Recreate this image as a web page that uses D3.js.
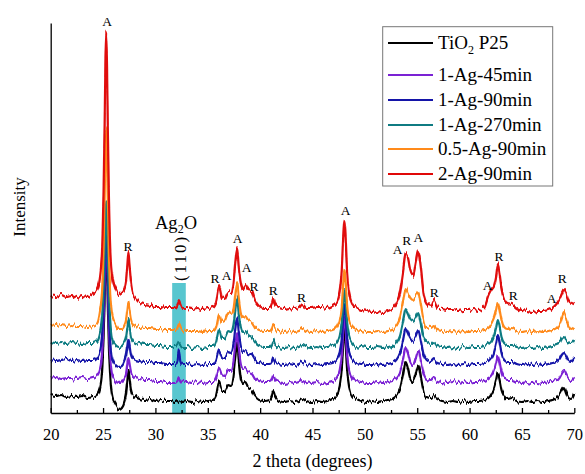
<!DOCTYPE html>
<html>
<head>
<meta charset="utf-8">
<script src="https://cdn.jsdelivr.net/npm/d3@7"></script>
<style>
  body { margin: 0; background: #fff; }
  svg { display: block; }
  text { font-family: "Liberation Serif", "Times New Roman", serif; fill: #000; }
</style>
</head>
<body>
<svg id="chart" width="585" height="474"></svg>
<script>
// 2-theta sampling positions (degrees), shared by every pattern
const theta = [
  20, 20.5, 21, 21.5, 22, 22.5, 23, 23.5, 24, 24.4,
  24.7, 24.9, 25.05, 25.15, 25.22, 25.3, 25.38, 25.45, 25.55, 25.7,
  25.9, 26.2, 26.5, 26.8, 27.05, 27.2, 27.32, 27.42, 27.52, 27.65,
  27.85, 28.1, 28.5, 29, 29.5, 30, 30.5, 31, 31.5, 31.9,
  32.1, 32.25, 32.4, 32.6, 33, 33.5, 34, 34.5, 35, 35.5,
  35.8, 36.08, 36.35, 36.6, 36.95, 37.2, 37.45, 37.65, 37.8, 37.95,
  38.15, 38.35, 38.58, 38.85, 39.2, 39.5, 39.9, 40.4, 40.9, 41.1,
  41.25, 41.45, 41.8, 42.3, 42.8, 43.3, 43.7, 44.05, 44.4, 44.9,
  45.4, 45.9, 46.4, 46.9, 47.3, 47.6, 47.8, 47.95, 48.05, 48.15,
  48.3, 48.5, 48.8, 49.2, 49.7, 50.2, 50.7, 51.2, 51.7, 52.2,
  52.6, 53.0, 53.35, 53.65, 53.9, 54.1, 54.35, 54.6, 54.85, 55.1,
  55.35, 55.6, 55.9, 56.3, 56.6, 56.9, 57.4, 57.9, 58.4, 58.9,
  59.4, 59.9, 60.4, 60.9, 61.4, 61.8, 62.1, 62.35, 62.55, 62.7,
  62.85, 63.05, 63.3, 63.6, 64.05, 64.5, 65, 65.5, 66, 66.5,
  67, 67.5, 67.9, 68.3, 68.6, 68.8, 69.0, 69.2, 69.45, 69.7,
  70
];

// Diffracted intensity (a.u.) of each sample
const tio2P25 = [
  18, 17, 18, 16, 17, 16, 17, 15, 16, 18,
  25, 41, 75, 112, 144, 164, 142, 109, 70, 34,
  16, 9, 4, 6, 12, 20, 32, 43, 35, 24,
  18, 16, 14, 13, 14, 12, 13, 12, 12, 11,
  12, 11, 12, 11, 12, 11, 12, 11, 12, 13,
  18, 31, 22, 22, 29, 28, 37, 57, 70, 53,
  34, 28, 30, 25, 23, 17, 13, 12, 13, 16,
  22, 16, 12, 11, 12, 11, 12, 14, 12, 11,
  12, 11, 12, 14, 17, 26, 44, 73, 86, 73,
  44, 26, 17, 14, 12, 11, 12, 11, 12, 13,
  14, 17, 24, 38, 51, 45, 34, 31, 38, 48,
  36, 22, 16, 15, 18, 14, 12, 11, 12, 11,
  12, 11, 12, 12, 13, 15, 19, 25, 33, 40,
  34, 23, 17, 14, 15, 12, 11, 12, 11, 12,
  11, 12, 13, 15, 19, 23, 26, 21, 15, 14,
  20
];
const ag1Min45 = [
  16, 17, 15, 16, 16, 15, 16, 15, 16, 18,
  25, 40, 74, 110, 143, 163, 141, 108, 70, 35,
  18, 12, 10, 11, 16, 20, 30, 37, 31, 23,
  18, 16, 15, 14, 14, 13, 13, 12, 12, 12,
  14, 17, 14, 12, 12, 11, 12, 11, 12, 12,
  16, 26, 19, 18, 24, 24, 32, 50, 61, 46,
  30, 25, 26, 22, 21, 16, 13, 12, 12, 14,
  19, 14, 12, 11, 12, 11, 12, 14, 12, 11,
  12, 11, 12, 13, 16, 24, 40, 66, 77, 66,
  40, 24, 16, 13, 12, 11, 11, 12, 11, 12,
  13, 16, 22, 35, 47, 42, 32, 29, 36, 44,
  33, 21, 15, 14, 17, 13, 12, 11, 12, 11,
  12, 11, 12, 12, 13, 15, 18, 24, 32, 39,
  33, 22, 16, 14, 14, 12, 11, 12, 11, 12,
  11, 12, 13, 14, 17, 21, 24, 20, 15, 14,
  17
];
const ag1Min90 = [
  16, 15, 16, 17, 15, 16, 15, 16, 16, 18,
  25, 40, 73, 109, 141, 161, 139, 106, 68, 33,
  17, 11, 9, 10, 15, 21, 30, 38, 32, 23,
  18, 16, 15, 14, 14, 13, 13, 12, 12, 12,
  14, 26, 14, 12, 12, 11, 12, 11, 12, 12,
  16, 26, 19, 18, 24, 23, 31, 50, 60, 45,
  30, 25, 26, 22, 21, 16, 13, 12, 12, 14,
  19, 14, 12, 11, 12, 11, 12, 14, 12, 11,
  12, 11, 12, 13, 16, 23, 38, 62, 73, 62,
  38, 23, 16, 13, 12, 11, 11, 12, 11, 12,
  13, 16, 23, 36, 48, 44, 38, 36, 40, 46,
  35, 22, 16, 14, 17, 13, 12, 11, 12, 11,
  12, 11, 12, 12, 13, 15, 19, 25, 34, 41,
  35, 23, 16, 14, 14, 12, 11, 12, 11, 12,
  11, 12, 13, 14, 17, 21, 23, 20, 15, 14,
  18
];
const ag1Min270 = [
  17, 16, 17, 16, 17, 16, 15, 16, 16, 18,
  26, 41, 72, 107, 138, 158, 136, 104, 68, 35,
  19, 14, 12, 13, 17, 22, 31, 39, 33, 23,
  18, 16, 15, 14, 14, 13, 13, 12, 12, 12,
  14, 17, 14, 12, 12, 11, 12, 11, 12, 12,
  17, 30, 21, 21, 28, 27, 34, 52, 62, 47,
  32, 27, 28, 24, 22, 17, 13, 12, 12, 14,
  19, 14, 12, 11, 12, 11, 12, 14, 12, 11,
  12, 11, 12, 13, 16, 23, 37, 59, 69, 59,
  37, 23, 16, 13, 12, 11, 11, 12, 11, 12,
  13, 16, 23, 37, 49, 45, 39, 37, 41, 46,
  35, 22, 16, 14, 17, 13, 12, 11, 12, 11,
  12, 11, 12, 12, 13, 15, 18, 24, 32, 39,
  33, 22, 16, 14, 14, 12, 11, 12, 11, 12,
  11, 12, 13, 14, 16, 20, 22, 19, 16, 15,
  19
];
const ag05Min90 = [
  18, 17, 18, 17, 18, 17, 17, 16, 17, 19,
  31, 51, 96, 146, 189, 215, 188, 144, 93, 48,
  27, 19, 14, 14, 18, 23, 33, 41, 34, 25,
  19, 17, 16, 15, 15, 14, 14, 13, 13, 13,
  15, 19, 15, 13, 12, 12, 12, 11, 12, 12,
  16, 29, 21, 22, 30, 28, 33, 50, 60, 46,
  31, 26, 27, 23, 21, 16, 13, 12, 12, 14,
  19, 14, 12, 11, 12, 11, 12, 14, 12, 11,
  12, 11, 12, 13, 16, 23, 38, 62, 73, 62,
  38, 23, 16, 13, 12, 11, 11, 12, 11, 12,
  13, 17, 25, 42, 55, 50, 45, 43, 47, 51,
  38, 23, 16, 15, 17, 13, 12, 11, 12, 11,
  12, 11, 12, 12, 13, 15, 19, 25, 33, 40,
  34, 23, 16, 14, 15, 12, 11, 12, 11, 12,
  11, 12, 13, 15, 19, 25, 31, 25, 17, 14,
  16
];
const ag2Min90 = [
  27, 26, 28, 26, 27, 25, 27, 26, 29, 33,
  46, 72, 133, 199, 258, 292, 257, 198, 132, 71,
  45, 34, 28, 30, 34, 42, 58, 71, 59, 43,
  30, 25, 20, 19, 18, 16, 16, 15, 15, 15,
  18, 23, 18, 15, 15, 14, 15, 14, 15, 16,
  21, 37, 25, 24, 31, 30, 40, 63, 75, 57,
  40, 34, 38, 33, 32, 23, 17, 15, 15, 18,
  25, 18, 15, 14, 15, 14, 15, 19, 15, 15,
  16, 16, 15, 17, 20, 31, 54, 89, 103, 89,
  52, 30, 19, 15, 13, 12, 11, 12, 11, 12,
  14, 19, 30, 52, 70, 66, 52, 47, 60, 73,
  55, 30, 20, 17, 23, 16, 14, 13, 13, 12,
  13, 13, 14, 13, 16, 28, 34, 38, 48, 59,
  50, 34, 24, 20, 19, 15, 13, 12, 11, 12,
  12, 13, 15, 19, 24, 29, 33, 30, 22, 19,
  21
];

const seriesNames = ["TiO2 P25", "1-Ag-45min", "1-Ag-90min", "1-Ag-270min", "0.5-Ag-90min", "2-Ag-90min"];
const seriesValues = [tio2P25, ag1Min45, ag1Min90, ag1Min270, ag05Min90, ag2Min90];
const seriesOffsets = [0, 19, 37, 54, 70, 90];   // vertical stacking offsets (a.u.)
const seriesColors = ["#000000", "#7b22d4", "#1414a8", "#0f7b82", "#ff8a1a", "#e00808"];

// Phase reflections: A = anatase, R = rutile
const labelTheta = [25.38, 27.38, 35.7, 36.8, 37.85, 38.71, 39.41, 41.25, 43.96, 48.17, 53.13, 53.99, 55.1, 56.62, 61.72, 62.8, 64.17, 67.83, 68.84];
const labelLevel = [387, 162, 130, 133, 170, 141, 122, 118, 111, 198, 159, 168, 171, 116, 123, 152, 113, 110, 130];
const labelText  = ["A", "R", "R", "A", "A", "A", "R", "R", "R", "A", "A", "R", "A", "R", "A", "R", "R", "A", "R"];

// Ag2O (110) reflection window
const ag2oRange = [31.6, 32.9];
const ag2oLevel = 130;

const xMajorTicks = [20, 25, 30, 35, 40, 45, 50, 55, 60, 65, 70];
const xMinorTicks = [22.5, 27.5, 32.5, 37.5, 42.5, 47.5, 52.5, 57.5, 62.5, 67.5];

const svg = d3.select("#chart");
const x = d3.scaleLinear().domain([20, 70]).range([50.7, 574.3]);
const y = d3.scaleLinear().domain([0, 390]).range([413, 23]);

// grainy texture of the counting noise along each trace
const defs = svg.append("defs");
const grain = defs.append("filter").attr("id", "grain")
  .attr("x", "-2%").attr("y", "-5%").attr("width", "104%").attr("height", "110%");
grain.append("feTurbulence").attr("type", "fractalNoise")
  .attr("baseFrequency", "0.45 0.03").attr("numOctaves", 2).attr("seed", 7).attr("result", "noise");
const ct = grain.append("feComponentTransfer").attr("in", "noise").attr("result", "vnoise");
ct.append("feFuncR").attr("type", "linear").attr("slope", 0).attr("intercept", 0.5);
grain.append("feDisplacementMap").attr("in", "SourceGraphic").attr("in2", "vnoise")
  .attr("scale", 8).attr("xChannelSelector", "R").attr("yChannelSelector", "G");

// Ag2O band
svg.append("rect")
  .attr("x", x(ag2oRange[0]))
  .attr("y", y(ag2oLevel))
  .attr("width", x(ag2oRange[1]) - x(ag2oRange[0]))
  .attr("height", y(0) - y(ag2oLevel))
  .attr("fill", "#58c6cf");

// Patterns, bottom to top
const line = d3.line()
  .x(d => x(d[0]))
  .y(d => y(d[1]))
  .curve(d3.curveMonotoneX);

const traces = svg.append("g").attr("filter", "url(#grain)");
seriesValues.forEach((vals, i) => {
  const pts = theta.map((t, j) => [t, vals[j] + seriesOffsets[i]]);
  traces.append("path")
    .attr("d", line(pts))
    .attr("fill", "none")
    .attr("stroke", seriesColors[i])
    .attr("stroke-width", 2.2)
    .attr("stroke-linejoin", "round");
});

// Axes
const axisG = svg.append("g").attr("transform", `translate(0,${y(0)})`);
axisG.call(d3.axisBottom(x).tickValues(xMajorTicks).tickSize(-5).tickSizeOuter(0).tickFormat(d3.format("d")));
axisG.selectAll(".tick text")
  .attr("y", 27).attr("dy", null)
  .style("font-family", '"Liberation Serif", "Times New Roman", serif')
  .style("font-size", "16.5px").attr("fill", "#000");
const minorG = svg.append("g").attr("transform", `translate(0,${y(0)})`);
minorG.call(d3.axisBottom(x).tickValues(xMinorTicks).tickSize(-3).tickSizeOuter(0).tickFormat(""));
minorG.select(".domain").remove();
svg.selectAll(".domain, .tick line").attr("stroke", "#000").attr("stroke-width", 1.3);

const yAxisG = svg.append("g").attr("transform", `translate(${x(20)},0)`);
yAxisG.call(d3.axisLeft(y).tickValues([]).tickSizeOuter(0));
yAxisG.select(".domain").attr("stroke", "#000").attr("stroke-width", 1.3);

// Axis titles
svg.append("text")
  .attr("x", (x(20) + x(70)) / 2).attr("y", 467)
  .attr("text-anchor", "middle").style("font-size", "18px")
  .text("2 theta (degrees)");
svg.append("text")
  .attr("transform", `translate(19,207) rotate(-90)`)
  .attr("text-anchor", "middle").attr("dy", "0.35em").style("font-size", "17px")
  .text("Intensity");

// Phase labels
svg.append("g").selectAll("text")
  .data(labelText)
  .join("text")
  .attr("x", (d, i) => x(labelTheta[i]))
  .attr("y", (d, i) => y(labelLevel[i]))
  .attr("text-anchor", "middle")
  .style("font-size", "13.5px")
  .attr("fill", "#222")
  .text(d => d);

// Ag2O (110) annotation
const agText = svg.append("text").attr("x", 155).attr("y", 229).style("font-size", "18.5px");
agText.append("tspan").text("Ag");
agText.append("tspan").attr("dy", 4).style("font-size", "12px").text("2");
agText.append("tspan").attr("dy", -4).text("O");
svg.append("text")
  .attr("transform", `translate(${x((ag2oRange[0] + ag2oRange[1]) / 2) + 1},258) rotate(-90)`)
  .attr("text-anchor", "middle").attr("dy", "0.35em")
  .style("font-size", "17px").style("letter-spacing", "2px")
  .text("(110)");

// Legend
const legend = svg.append("g");
const rowY = [43, 75, 100, 125, 149, 174];
legend.append("rect")
  .attr("x", 382.7).attr("y", 26.7).attr("width", 170).attr("height", 159.3)
  .attr("fill", "#fff").attr("stroke", "#777").attr("stroke-width", 1);
seriesNames.forEach((name, i) => {
  legend.append("line")
    .attr("x1", 388).attr("x2", 433).attr("y1", rowY[i]).attr("y2", rowY[i])
    .attr("stroke", seriesColors[i]).attr("stroke-width", 2);
  const t = legend.append("text").attr("x", 438).attr("y", rowY[i] + 6).style("font-size", "19px");
  if (name.startsWith("TiO2")) {
    t.append("tspan").text("TiO");
    t.append("tspan").attr("dy", 5).style("font-size", "12px").text("2");
    t.append("tspan").attr("dy", -5).text(name.slice(4));
  } else {
    t.text(name);
  }
});
</script>
</body>
</html>
